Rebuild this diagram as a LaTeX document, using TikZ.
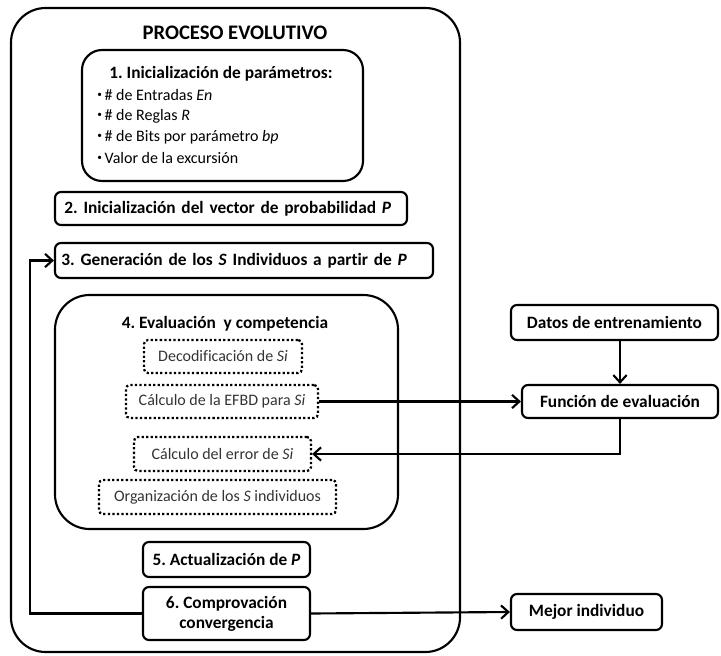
\documentclass[tikz,border=0pt]{standalone}
\usepackage{fontspec}
\setmainfont[Ligatures=NoCommon]{Carlito}
\usetikzlibrary{arrows.meta}
\newcommand{\mybul}{\raisebox{0.35ex}{\scriptsize\textbullet}\,}
\begin{document}
\frenchspacing
\begin{tikzpicture}[x=0.75pt,y=-0.75pt,
  lw/.style={line width=1.6pt},
  arr/.style={lw,-{Straight Barb[length=5.5pt,width=10pt,line width=1.6pt]}},
  bf/.style={font=\bfseries\fontsize{13}{15}\selectfont},
  box/.style={draw,lw,rounded corners=4.5pt,bf,inner sep=0pt},
  dbox/.style={draw,line width=1.7pt,dash pattern=on 1.7pt off 1.7pt,rounded corners=3pt,font=\fontsize{12}{14}\selectfont,text=black!80,inner sep=0pt},
  txt/.style={inner sep=0pt,font=\fontsize{12}{14}\selectfont}]
\useasboundingbox (0,0) rectangle (721,656);
% outer
\draw[lw,rounded corners=26pt] (11,8) rectangle (460,652);
\node[txt,font=\bfseries\fontsize{15.5}{18}\selectfont] (title) at (235,33) {PROCESO EVOLUTIVO};
% box 1
\draw[lw,rounded corners=15pt] (82,50) rectangle (363,181);
\node[txt,bf] (t1) at (221,74) {1. Inicialización de parámetros:};
\node[txt,anchor=west] (b1) at (97,95) {\mybul\# de Entradas \textit{En}};
\node[txt,anchor=west] (b2) at (97,116) {\mybul\# de Reglas \textit{R}};
\node[txt,anchor=west] (b3) at (97,137) {\mybul\# de Bits por parámetro \textit{bp}};
\node[txt,anchor=west] (b4) at (97,158) {\mybul Valor de la excursión};
% box 2, 3
\node[box,minimum width=264pt,minimum height=24.75pt,text width=250pt,align=left] (s2) at (231,208.5) {2. Inicialización del vector de probabilidad\ \textit{P}};
\node[box,minimum width=283.5pt,minimum height=26.25pt,text width=274pt,align=left] (s3) at (244,260.5) {3. Generación de los \textit{S} Individuos a partir de \textit{P}};
% box 4
\draw[lw,rounded corners=26pt] (55,295) rectangle (398,529);
\node[txt,bf] (t4) at (225,324) {4. Evaluación\ \ y competencia};
\node[dbox,minimum width=118.5pt,minimum height=24.75pt] (dec) at (223,356.5) {Decodificación de \textit{Si}};
\node[dbox,minimum width=144pt,minimum height=24.75pt] (efbd) at (222,401.5) {Cálculo de la EFBD para \textit{Si}};
\node[dbox,minimum width=132.75pt,minimum height=25.5pt] (err) at (222.5,454) {Cálculo del error de \textit{Si}};
\node[dbox,minimum width=177.75pt,minimum height=25.5pt] (org) at (217.5,497) {Organización de los \textit{S} individuos};
% box 5, 6
\node[box,minimum width=125.25pt,minimum height=26.25pt] (s5) at (226.5,559.5) {5. Actualización de \textit{P}};
\node[box,minimum width=125.25pt,minimum height=39.75pt,align=center] (s6) at (226.5,613.5) {6. Comprovación\\convergencia};
% right
\node[box,minimum width=155.25pt,minimum height=26.25pt] (datos) at (614.5,322.5) {Datos de entrenamiento};
\node[box,minimum width=147pt,minimum height=24.75pt] (func) at (620,401.5) {Función de evaluación};
\node[box,minimum width=113.25pt,minimum height=27pt] (mejor) at (586.5,612) {Mejor individuo};
% connectors
\coordinate (loop) at (30,613.5);
\draw[arr] (s6.west) -- (loop) |- (s3.west);
\draw[arr] (datos.south -| func.south) -- (func.north);
\draw[arr] (efbd.east) -- (func.west);
\draw[arr] (func.south) |- (err.east);
\draw[arr] (s6.east) -- (mejor.west);
\end{tikzpicture}
\end{document}
